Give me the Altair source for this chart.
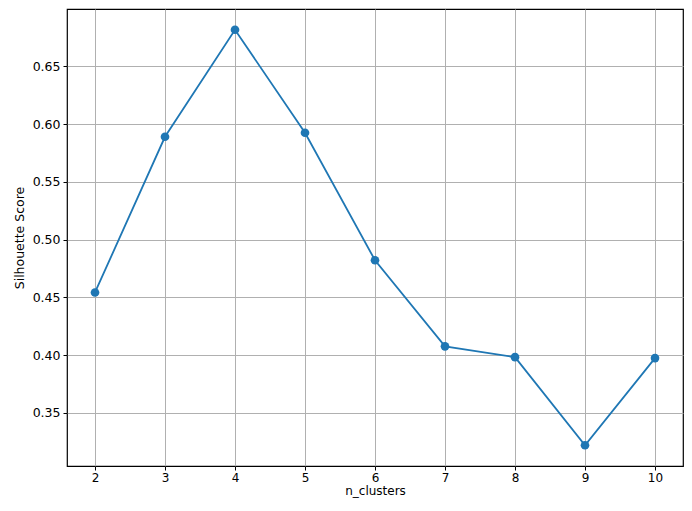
import altair as alt
import pandas as pd

n_clusters = [2, 3, 4, 5, 6, 7, 8, 9, 10]
scores = [0.4543, 0.5891, 0.6817, 0.5926, 0.4822, 0.4077, 0.3983, 0.3221, 0.3975]

df = pd.DataFrame({"n_clusters": n_clusters, "score": scores})

FONT = "DejaVu Sans"
base = alt.Chart(df).encode(
    x=alt.X("n_clusters:Q",
            scale=alt.Scale(domain=[1.6, 10.4], nice=False, zero=False),
            axis=alt.Axis(title="n_clusters", values=n_clusters, format="d",
                          grid=True, gridColor="#b0b0b0", gridWidth=1,
                          domain=False, tickColor="black", tickSize=4,
                          labelFont=FONT, labelFontSize=12, labelColor="black",
                          titleFont=FONT, titleFontSize=12, titleFontWeight="normal",
                          titleColor="black", labelPadding=2, titlePadding=2)),
    y=alt.Y("score:Q",
            scale=alt.Scale(domain=[0.3041, 0.6997], nice=False, zero=False),
            axis=alt.Axis(title="Silhouette Score",
                          values=[0.35, 0.40, 0.45, 0.50, 0.55, 0.60, 0.65],
                          format=".2f",
                          grid=True, gridColor="#b0b0b0", gridWidth=1,
                          domain=False, tickColor="black", tickSize=4,
                          labelFont=FONT, labelFontSize=12.5, labelColor="black",
                          titleFont=FONT, titleFontSize=12.5, titleFontWeight="normal",
                          titleColor="black", labelPadding=3, titlePadding=6)),
)

line = base.mark_line(color="#1f77b4", strokeWidth=1.8)
pts = base.mark_circle(color="#1f77b4", size=75, opacity=1)

chart = (line + pts).properties(
    width=616, height=457,
    autosize=alt.AutoSizeParams(type="none"),
    padding={"left": 59, "top": 1, "right": 1, "bottom": 36},
).configure_view(stroke="black", strokeWidth=1.2)

chart.save("out.html", embed_options={"renderer": "svg", "actions": False})
